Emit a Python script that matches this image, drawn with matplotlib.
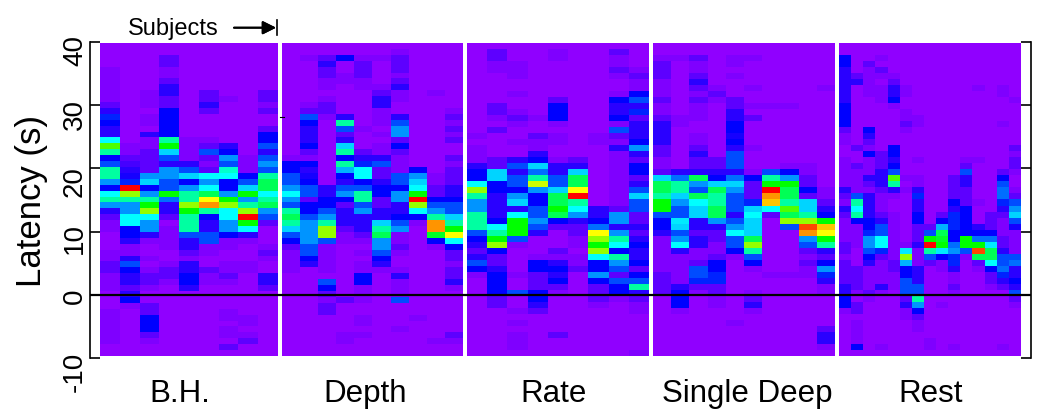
# Latency heatmaps per breathing task, one column per subject
import colorsys
import matplotlib
matplotlib.use("Agg")
import matplotlib.pyplot as plt
from matplotlib.colors import LinearSegmentedColormap
from matplotlib.transforms import ScaledTranslation
import numpy as np

plt.rcParams["font.family"] = ["Liberation Sans", "DejaVu Sans"]

tasks = ["B.H.", "Depth", "Rate", "Single Deep", "Rest"]
latency_ticks = [40, 30, 20, 10, 0, -10]
latency_labels = ["40", "30", "20", "10", "0", "-10"]

# one list per subject, top row (40 s) to bottom row (-10 s), level 0 (purple) to 15 (red)
bh = [
    [0,0,0,0,1,1,1,1,1,1, 2,3,4.5,4,3,3,8,11.5,9,4, 5,9,9,6,4,8,9,6,3,2, 1,1,0,0,0,1,1,2,2,1, 1,1,0,0,0,1,1,1,1,1, 1,0,0],
    [0,0,0,0,0,0,0,0,0,0, 0,0,0,0,0,0,0,1,1,2, 2.5,3,3.5,4.5,15,12,9,6,6,8, 8,4,4,3,1,1,3,5,4,3, 3,2,3,4,1,0,0,0,0,0, 0,0,0],
    [0,0,0,0,0,0,0,0,1,1, 1,0,1,1,0,3,1,1,2,2, 2,2,6,7,4,6,9,11,12,8, 6,6,3,1,0,0,1,0,1,2, 2,1,0,0,2,2,4,4,4,2, 1,0,0],
    [0,0,2,2,1,1,2,3,3,2, 2,4,4,4,4,4,9,11,7,5, 3,6,6,5,5,11,5.5,3,3,2, 0,1,1,1,1,0,0,1,2,2, 1,0,0,0,0,0,0,0,0,0, 0,0,0],
    [0,0,0,0,0,0,0,0,0,0, 0,0,0,0,0,0,1,1,1,1, 3,5,7,4,6,9,9,12,11,9, 9,9,5,3,3,2,1,3,3,4, 4,3,0,0,0,0,0,0,0,0, 0,0,0],
    [0,0,0,0,0,0,0,0,2,2, 3,2,0,0,0,0,1,2,5,2, 1,2,8,6,8,10,13,14,9,4, 3,3,5,5,1,1,0,0,2,1, 1,0,0,0,0,0,0,0,0,0, 0,0,0],
    [0,0,0,0,0,0,0,0,0,1, 0,0,0,0,0,0,0,3,4,6, 5,8.5,8,4,4,6,11,12,8,8, 6,6,4,1,1,0,0,1,1,2, 1,0,0,0,0,1,1,0,1,1, 0,2,0],
    [0,0,0,0,0,0,0,0,0,0, 0,0,0,0,0,0,0,0,0,1, 1,1,4,5,7,11,6,9,12,15, 11,8,3,1,0,0,0,1,1,0, 0,0,0,0,0,0,1,1,0,1, 2,0,0],
    [0,0,0,0,0,0,0,0,2,2, 1,2,0,0,2,4,4,5,3,5, 6,5,9,10,10,8,9,10,6,5, 2,0,0,0,1,2,1,0,0,3, 3,2,0,0,0,0,0,0,0,0, 0,0,0],
]
depth = [
    [0,0,0,0,0,0,0,0,0,0, 0,0,0,0,0,0,0,0,0,1, 4,4,5,5,6,8,6,5,9,10, 9,7,5,4,2,1,1,1,1,0, 0,0,0,0,0,0,0,0,0,0, 0,0,0],
    [0,0,1,0,0,0,0,0,0,0, 1,2,5,4,3,3,3,4,2,1, 4,3,3.5,4,5,5,2,4,4,5, 6,6,6,6,5,5,4,3,0,0, 0,0,0,0,0,0,0,0,0,0, 0,0,0],
    [0,0,2,3,2,2,1,1,0,1, 2,2,1,0,0,0,0,0,0,0, 0,0,0,0,3,3,4,4,5,6, 9,12,12,5,1,1,1,1,1,0, 5,4,2,1,2,2,0,0,0,0, 0,0,0],
    [0,0,4,0,0,1,1,0,0,0, 0,0,3,9,5,2,3,7,9,4, 9,6.5,4,3,5,6,4,2,3,3, 3,2,1,1,0,0,0,0,0,0, 0,0,0,2,0,0,0,0,0,1, 1,0,0],
    [0,0,1,2,2,2,1,1,0,0, 0,0,0,0,1,0,0,0,2,3, 4.5,8,8,4,5,9,9,5,6,3, 3,3,2,1,0,1,0,1,1,4, 4,1,1,1,0,0,1,1,0,1, 0,0,0],
    [0,0,1,0,0,0,0,1,2,3, 3,1,1,1,0,1,0,1,1,3, 5,2,2,3,4,4,2,2,3,3, 7,9,10,6,6,5,4,3,1,0, 0,0,0,0,0,0,0,0,0,0, 0,0,0],
    [0,1,2,2,2,1,2,3,1,1, 0,0,3,5,6,6,2,4,2,1, 1,1,5,5,4,6,6,3,3,4, 5,6,1,1,2,1,0,0,1,3, 1,1,1,5,0,0,0,0,1,0, 0,0,0],
    [0,0,0,0,0,0,0,0,0,0, 0,0,0,0,0,0,0,0,0,0, 0,4,6,7,8,11,15,12,8,4, 1,0,0,0,0,0,0,0,0,0, 0,0,0,0,0,0,1,0,0,0, 0,0,0],
    [0,0,0,0,0,0,0,0,1,0, 0,0,0,0,0,0,0,0,0,0, 0,0,1,1,2,2,4,5,6,9, 14,14,10.5,4,1,0,0,0,0,0, 0,0,0,0,0,0,0,0,0,0, 1,0,0],
    [0,0,0,0,0,0,0,0,0,0, 0,1,2,1,2,1,2,0,0,2, 1,2,2,2,3,3,4,5,5,7, 9,11,13,8,4,2,2,1,2,2, 3,1,0,0,0,0,0,0,0,2, 1,0,0],
]
rate = [
    [0,0,0,0,0,0,0,0,0,0, 0,0,0,0,0,1,0,1,1,1, 3,4,4,8,12,9,6,6,9,9, 9,5,4,3,2,3,5,4,1,0, 0,0,0,0,0,0,0,0,0,0, 0,0,0],
    [0,2,2,1,1,0,0,0,0,0, 2,2,1,0,2,0,0,0,0,2, 2,7,7,4,4,3,3,3,3,4, 8,9,11,12,4,2,2,3,4,4, 4,4,2,2,0,0,0,0,0,0, 0,0,0],
    [0,0,0,1,1,1,0,0,1,0, 0,1,2,1,0,0,1,0,0,3, 5,3,5,5,4,6,7,3,8,11, 11,11,5,1,0,0,0,0,1,0, 0,5,0,0,1,0,1,0,1,1, 1,0,0],
    [0,0,0,0,0,0,0,0,0,0, 0,0,1,0,0,2,1,1,3,4, 7,5.5,9,12.5,6,4,4,5,5,6, 5,3,0,0,0,1,4,4,2,2, 2,4,4,3,2,0,0,0,0,0, 0,0,0],
    [0,1,1,0,0,0,0,0,0,2, 4,4,4,1,0,1,1,0,0,1, 3,3,5,5,7,10,10,11,10,4, 2,0,0,0,2,1,3,4,3,4, 2,1,0,0,0,0,0,0,2,0, 0,0,0],
    [0,0,0,0,0,0,0,0,0,0, 0,0,0,0,0,0,0,0,0,2, 3,7,10,10,13,15,9,8,6,3, 2,2,1,1,0,1,1,2,0,0, 0,0,0,0,0,0,0,0,0,0, 0,0,0],
    [0,0,0,0,0,0,0,0,0,0, 0,0,0,0,0,1,1,0,0,0, 0,0,0,0,0,0,0,3,3,4, 5.5,13,12,11,12,8,4,4,6,4, 2,2,2,1,0,0,0,0,0,0, 0,0,0],
    [0,2,1,1,2,1,0,0,1,4, 3,3,4,1,5,2,1,3,1,1, 1,1,1,1,1,1,1,2,6,6, 3,6,9,8,4,9,6,5,2,5, 4,4,1,0,0,0,0,0,0,0, 0,0,0],
    [0,0,0,0,1,2,1,1,4,5, 3,4.5,2,3,3,3,4,6,3,2, 4,4,2,3,5,7,5,5,2,2, 3,2,3,4,3,3,4,2,4,5, 9,3,2,1,1,0,0,0,0,0, 0,1,0],
]
single_deep = [
    [0,0,1,2,2,2,1,1,1,2, 1,1,2,3,3,3,3,2,2,1, 1,2,7,10,10,9,11,11,5,4, 4,3,1,1,1,1,1,1,2,2, 2,2,0,0,0,0,0,0,0,0, 0,0,0],
    [0,0,1,0,0,0,0,0,0,0, 0,0,1,1,0,0,0,0,0,0, 0,3,5.5,9,9,7,6,5,5,7.5, 7,5,6,8,3,1,1,1,1,1, 3,4,4,4,1,0,0,0,0,0, 0,0,0],
    [0,0,2,1,1,2,3,2,1,2, 1,1,1,0,0,1,1,2,3,2, 2,3,10,6,5,10,8,7,7,3, 3,2,3,3,1,1,2,5,5,4.5, 2,1,0,0,0,0,0,0,0,0, 0,0,0],
    [0,0,0,0,0,0,0,1,2,1, 0,0,0,0,0,0,0,0,0,2, 2,3,4,7,10,9,9,10,10,6, 3,2,2,1,1,2,4,4,4.5,4.5, 2,2,1,1,0,0,0,0,0,0, 0,0,0],
    [0,0,1,1,0,1,0,0,0,2, 2,3,3,4,4,3.5,4,3,5,5, 5,3,5.5,7,6,5,5,5,3,5, 6,8,5,5,4,1,0,0,0,0, 0,0,0,0,0,0,1,0,0,0, 0,0,0],
    [0,0,1,0,0,0,0,1,0,0, 1,0,2,0,0,0,0,1,0,0, 0,1,4,2,2,2,4.5,7,8,7, 7,7,10,12,9,5,4,1,0,0, 0,1,2,3,1,0,0,0,0,0, 0,0,0],
    [0,0,0,0,0,0,0,0,0,0, 1,0,0,0,0,0,0,0,0,0, 0,5,9,11,15,14,13.5,8,2,0, 0,0,0,0,0,0,0,0,1,0, 0,0,0,0,0,0,0,0,0,0, 0,0,0],
    [0,0,0,0,0,0,0,0,0,0, 1,0,0,0,0,0,0,0,0,0, 1,4,6,11,10,10,9,11.5,10,12, 5,0,0,0,0,0,0,0,1,0, 0,0,0,0,0,0,0,0,0,0, 0,0,0],
    [0,0,0,0,0,0,0,0,0,0, 0,0,0,0,0,0,0,0,0,0, 1,1,2,2,4,2,7,7,9,12, 14.5,14,6,5,2,1,2,1,1,0, 0,0,0,0,0,0,0,0,0,0, 0,0,0],
    [0,0,0,0,0,0,0,1,0,0, 0,0,0,0,0,0,0,0,0,0, 0,0,0,0,1,1,2,3,4,11, 13.5,13,11,9,3,2,4,6,4.5,3, 1,1,0,0,0,0,0,2,3,3, 1,0,0],
]
rest = [
    [0,0,4,4,3,3,3,3,3,3, 4,4,4,4,2,1,1,0,0,1, 1,1,1,1,3,2,1,3,2,1, 1,1,1,2,2,1,2,2,2,2, 3,3,4,4,1,0,0,0,0,0, 0,0,0],
    [0,0,0,0,0,2,3,0,0,0, 0,0,0,0,0,0,0,2,0,0, 2,1,1,1,1,5,9,8,9,4, 1,1,1,1,0,0,0,2,2,2, 2,1,0,2,2,0,1,1,1,1, 4,0,0],
    [0,0,0,2,1,1,1,1,1,0, 0,0,0,0,4,3,2,1,4,1, 1,1,3,2,1,3,3,3,3,4, 4,4.5,6,6,5,4,3,1,1,1, 1,2,1,0,0,0,0,0,0,0, 0,0,0],
    [0,0,1,0,2,1,0,1,1,1, 0,0,0,0,0,0,0,0,2,2, 2,3,3,3,2,1,1,1,2,3, 5,5,8,8,4.5,2,1,1,1,1, 3,1,0,0,0,0,0,0,0,0, 1,0,0],
    [0,0,0,0,0,1,2,3,3,4, 1,0,0,0,0,0,0,4,4,3, 4,5,11.5,9,3,1,0,0,1,1, 1,1,1,1,1,1,2,2,1,1, 1,0,0,0,0,0,0,0,0,0, 0,0,0],
    [0,0,0,0,0,0,0,1,1,0, 0,1,1,2,1,0,0,0,0,0, 0,0,1,0,1,0,0,0,0,0, 0,0,0,1,7.5,12,6.5,4,4,5, 5,5,2,3,1,1,0,0,0,0, 0,0,0],
    [0,0,0,0,0,0,0,0,0,0, 0,0,1,1,0,0,0,0,0,1, 0,0,1,1,3,4.5,3,3,4,4, 2,2,2,3,1,1,1,3,3,3, 5,5,9,6,4,2,1,1,0,0, 0,0,0],
    [0,0,0,0,0,0,0,0,0,0, 0,0,0,0,0,0,0,0,0,0, 0,0,0,0,0,0,0,0,0,0, 2,5,11,15,9,5,2,0,0,0, 0,0,0,0,0,0,0,0,0,1, 1,0,0],
    [0,0,0,0,0,0,0,0,0,0, 0,0,0,0,0,0,0,0,0,0, 0,0,0,0,0,0,0,0,2,4, 6.5,10,10.5,11,7.5,4,1,1,0,0, 0,0,0,1,0,0,0,0,0,0, 0,0,0],
    [0,0,0,0,0,0,0,0,0,0, 0,0,0,0,0,0,0,0,0,0, 0,0,2,2,2,2,4,3,4.5,4.5, 4.5,4,4,5.5,6,4.5,4.5,3,1,1, 2,1,0,0,0,0,0,0,0,0, 1,0,0],
    [0,0,0,0,0,0,0,0,0,0, 0,0,0,0,0,0,0,0,0,1, 2,5,3,3,2,2,2,4,4,4, 4,4,11,11,5,1,0,0,0,0, 0,0,0,0,0,0,0,0,0,0, 0,0,0],
    [0,0,0,0,0,0,0,1,0,0, 0,0,0,0,0,0,0,0,0,1, 0,0,0,0,0,0,1,0,0,0, 3,4,5.5,11,14.5,10,2,1,0,0, 0,0,0,0,0,0,0,0,0,0, 0,0,0],
    [0,0,0,0,0,0,0,0,0,0, 0,0,0,0,0,0,0,0,0,0, 0,0,0,0,0,0,0,0,2,2, 2,4,5.5,7.5,10,10,8,4,2,2, 1,0,0,0,0,0,0,0,0,0, 0,0,0],
    [0,0,0,0,0,0,0,1,1,0, 0,0,0,1,0,0,0,0,0,0, 0,2,4,5,5.5,5.5,4.5,3,2,1, 1,1,2,2,3,5,5,5.5,4.5,3, 2,0,0,0,0,0,0,0,0,0, 1,0,0],
    [0,0,0,0,0,0,0,0,0,1, 0,0,0,0,0,0,0,2,1,2, 2,1,0,0,1,2,5,6,7,5, 3.5,1,1,1,1,5,5.5,3,3,4, 3,5,2,1,0,0,0,0,0,0, 0,0,0],
]
panels = [bh, depth, rate, single_deep, rest]

W, H = 1050, 420
# panel left/right edges in pixels, and how many rows fit the panel height
panel_x = [(100, 278), (282.3, 463.3), (467.3, 648.7), (653.3, 835), (839.3, 1020.7)]
panel_rows = [53, 53, 52, 52, 52]
panel_top, panel_bottom = 43.3, 356
label_x = [180, 365, 553.5, 747, 931]

hues = [274, 270, 262, 250, 240, 222, 205, 190, 180, 158, 140, 120, 85, 60, 35, 0]
level_colors = [colorsys.hsv_to_rgb(h / 360, 1, 1) for h in hues]
cmap = LinearSegmentedColormap.from_list("latency", level_colors)


def px_axes(x0, x1, y_top, y_bottom):
    return fig.add_axes([x0 / W, 1 - y_bottom / H, (x1 - x0) / W, (y_bottom - y_top) / H])


fig = plt.figure(figsize=(W / 100, H / 100), dpi=100)

for columns, (x0, x1), rows in zip(panels, panel_x, panel_rows):
    ax = px_axes(x0, x1, panel_top, panel_bottom)
    ax.imshow(np.array(columns).T, cmap=cmap, vmin=0, vmax=15, aspect="auto",
              interpolation="nearest", extent=(0, len(columns), 53, 0))
    ax.set_ylim(rows, 0)
    ax.axis("off")

# frame with ticks on both sides, drawn over the panels
frame = px_axes(89.5, 1031, 42, 358)
frame.patch.set_alpha(0)
frame.set_ylim(-10, 40)
frame.set_xlim(0, 1)
frame.spines["top"].set_visible(False)
frame.spines["bottom"].set_visible(False)
for side in ["left", "right"]:
    frame.spines[side].set_linewidth(1.2)
frame.set_xticks([])
frame.set_yticks(latency_ticks)
frame.set_yticklabels(latency_labels, rotation=90, va="center", fontsize=20)
frame.tick_params(axis="y", direction="in", length=7, width=1.2, left=True, right=True, pad=1)
frame.axhline(0, color="black", lw=1.6)

# the tick labels sit below their ticks in the original
shifts = [9, 9, 13, 7, 1.5, 13.5]
for label, shift in zip(frame.get_yticklabels(), shifts):
    label.set_transform(label.get_transform() + ScaledTranslation(0, -shift / 100, fig.dpi_scale_trans))

fig.text(32 / W, 1 - 201 / H, "Latency (s)", rotation=90, ha="center", va="center", fontsize=25)
for name, x in zip(tasks, label_x):
    fig.text(x / W, 1 - 402 / H, name, ha="center", va="baseline", fontsize=22.5)

fig.text(173.5 / W, 1 - 35 / H, "Subjects", ha="center", va="baseline", fontsize=17)
fig.add_artist(plt.annotate("", xy=(276 / W, 1 - 27.7 / H), xytext=(234 / W, 1 - 27.7 / H),
                            xycoords="figure fraction", textcoords="figure fraction",
                            arrowprops=dict(arrowstyle="-|>", color="black", lw=1.4, shrinkA=0, shrinkB=0,
                                            mutation_scale=20)))
fig.add_artist(plt.Line2D([277 / W, 277 / W], [1 - 20 / H, 1 - 35 / H], color="black", lw=1.2))
# stray tick mark next to the second panel
fig.add_artist(plt.Line2D([280 / W, 284 / W], [1 - 117 / H, 1 - 117 / H], color="black", lw=0.8))

fig.savefig("out.png", dpi=100)
